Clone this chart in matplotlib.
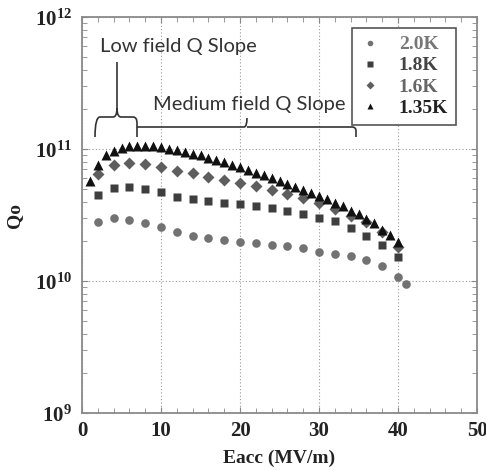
import matplotlib
matplotlib.use("Agg")
import matplotlib.pyplot as plt
import numpy as np
from matplotlib.path import Path
from matplotlib.patches import PathPatch
from matplotlib.ticker import FixedLocator, FuncFormatter, LogLocator, NullFormatter

plt.rcParams['mathtext.fontset'] = 'custom'
plt.rcParams['mathtext.bf'] = 'Liberation Serif:bold'
plt.rcParams['mathtext.rm'] = 'Liberation Serif:bold'

# ---- data ----
e_20 = [2, 4, 6, 8, 10, 12, 14, 16, 18, 20, 22, 24, 26, 28, 30, 32, 34, 36, 38, 40, 41]
q_20 = [2.79e10, 2.98e10, 2.92e10, 2.73e10, 2.55e10, 2.34e10, 2.18e10, 2.11e10, 2.05e10,
        1.99e10, 1.93e10, 1.88e10, 1.83e10, 1.78e10, 1.67e10, 1.60e10, 1.54e10, 1.44e10,
        1.31e10, 1.08e10, 9.5e9]

e_18 = [2, 4, 6, 8, 10, 12, 14, 16, 18, 20, 22, 24, 26, 28, 30, 32, 34, 36, 38, 40]
q_18 = [4.49e10, 5.09e10, 5.13e10, 4.98e10, 4.70e10, 4.33e10, 4.16e10, 4.04e10, 3.88e10,
        3.81e10, 3.68e10, 3.57e10, 3.41e10, 3.24e10, 3.02e10, 2.83e10, 2.51e10, 2.18e10,
        1.88e10, 1.53e10]

e_16 = [2, 4, 6, 8, 10, 12, 14, 16, 18, 20, 22, 24, 26, 28, 30, 32, 34, 36, 38, 40]
q_16 = [6.46e10, 7.57e10, 7.87e10, 7.74e10, 7.35e10, 6.85e10, 6.55e10, 6.17e10, 5.85e10,
        5.52e10, 5.21e10, 4.89e10, 4.56e10, 4.23e10, 3.90e10, 3.51e10, 3.13e10, 2.79e10,
        2.34e10, 1.82e10]

e_135 = list(range(1, 41))
q_135 = [5.75e10, 7.6e10, 8.96e10, 9.66e10, 1.01e11, 1.05e11, 1.05e11, 1.06e11, 1.05e11,
         1.04e11, 1.0e11, 9.78e10, 9.55e10, 9.17e10, 8.96e10, 8.55e10, 8.30e10, 7.93e10,
         7.6e10, 7.27e10, 6.93e10, 6.61e10, 6.31e10, 6.0e10, 5.69e10, 5.43e10, 5.18e10,
         4.92e10, 4.65e10, 4.43e10, 4.18e10, 3.9e10, 3.68e10, 3.41e10, 3.22e10, 2.95e10,
         2.74e10, 2.43e10, 2.24e10, 1.96e10]

labels = ['2.0K', '1.8K', '1.6K', '1.35K']
x_ticks = [0, 10, 20, 30, 40, 50]

W, H = 486, 470
fig = plt.figure(figsize=(W / 100, H / 100), dpi=100)
L, R, T, B = 82, 477, 17, 413
ax = fig.add_axes([L / W, 1 - B / H, (R - L) / W, (B - T) / H])

def fx(px):
    return (px - L) / (R - L)

def fy(py):
    return (B - py) / (B - T)

c20, c18, c16, c135 = '#727272', '#3e3e3e', '#5e5e5e', '#111111'
h1, = ax.plot(e_20, q_20, 'o', color=c20, ms=6.2, mec='none', label=labels[0])
h2, = ax.plot(e_18, q_18, 's', color=c18, ms=6.0, mec='none', label=labels[1])
h3, = ax.plot(e_16, q_16, 'D', color=c16, ms=5.8, mec='none', label=labels[2])
h4, = ax.plot(e_135, q_135, '^', color=c135, ms=6.6, mec='none', label=labels[3])

ax.set_yscale('log')
ax.set_xlim(0, 50)
ax.set_ylim(1e9, 1e12)

ax.xaxis.set_major_locator(FixedLocator(x_ticks))
ax.xaxis.set_minor_locator(FixedLocator(np.arange(0, 51, 2)))
ax.yaxis.set_major_locator(LogLocator(base=10, numticks=10))
ax.yaxis.set_minor_locator(LogLocator(base=10, subs=np.arange(2, 10), numticks=10))
ax.yaxis.set_minor_formatter(NullFormatter())
ax.yaxis.set_major_formatter(FuncFormatter(lambda v, p: r'$\mathbf{10^{%d}}$' % int(round(np.log10(v)))))

ax.tick_params(axis='x', which='major', labelsize=15, pad=6, direction='in', length=4,
               top=True, color='#888888')
ax.tick_params(axis='x', which='minor', direction='in', length=3.5, top=True, color='#888888')
ax.tick_params(axis='y', which='major', labelsize=15, pad=7, direction='in', length=4,
               right=True, color='#888888')
ax.tick_params(axis='y', which='minor', direction='in', length=3.5, right=True, color='#888888')
for lab in ax.get_xticklabels():
    lab.set_fontfamily('Liberation Serif')
    lab.set_fontweight('bold')
    lab.set_color('#222222')
for lab in ax.get_yticklabels():
    lab.set_color('#222222')

for s in ax.spines.values():
    s.set_color('#8a8a8a')
    s.set_linewidth(1.3)

ax.grid(True, which='major', color='#999999', linestyle=(0, (1, 2)), linewidth=0.8)
ax.set_axisbelow(True)

ax.set_xlabel('Eacc (MV/m)', family='Liberation Serif', weight='bold', fontsize=14,
              color='#222222', labelpad=6)
ax.set_ylabel('Qo', family='Liberation Serif', weight='bold', fontsize=14,
              color='#222222', labelpad=9)

# legend
leg = ax.legend(handles=[h1, h2, h3, h4], loc='upper right', bbox_to_anchor=(fx(456), fy(28)),
                frameon=True, fancybox=False, edgecolor='#555555', framealpha=1,
                prop={'family': 'Liberation Serif', 'weight': 'bold', 'size': 14},
                handlelength=1.0, handletextpad=1.0, labelspacing=0.18, borderpad=0.4,
                borderaxespad=0, markerscale=0.65)
leg.get_frame().set_linewidth(1.2)
for t, c in zip(leg.get_texts(), ['#777777', '#444444', '#666666', '#222222']):
    t.set_color(c)

# braces (axes-fraction coordinates built from pixel positions)
def brace(points_codes):
    verts = [(fx(px), fy(py)) for (px, py), _ in points_codes]
    codes = [c for _, c in points_codes]
    p = PathPatch(Path(verts, codes), transform=ax.transAxes, fill=False,
                  edgecolor='#333333', lw=1.2, clip_on=False)
    ax.add_patch(p)

M, L2, C3 = Path.MOVETO, Path.LINETO, Path.CURVE3
brace([((95, 137), M), ((95, 117), C3), ((100, 117), C3), ((113, 117), L2),
       ((117, 117), C3), ((117, 108), C3), ((117, 62), L2),
       ((117, 108), M), ((117, 117), C3), ((121, 117), C3), ((133, 117), L2),
       ((137, 117), C3), ((137, 123), C3), ((137, 137), L2)])
brace([((137, 127), M), ((244, 127), L2), ((247, 127), C3), ((247, 118), C3),
       ((247, 127), M), ((250, 127), C3), ((352, 127), L2),
       ((356, 127), C3), ((356, 131), C3), ((356, 137), L2)])

ax.text(fx(100), fy(52), 'Low field Q Slope', transform=ax.transAxes, family='Lato',
        fontsize=14.5, color='#333333', va='baseline', ha='left')
ax.text(fx(153), fy(110), 'Medium field Q Slope', transform=ax.transAxes, family='Lato',
        fontsize=14.5, color='#333333', va='baseline', ha='left')

fig.savefig('out.png', dpi=100)
